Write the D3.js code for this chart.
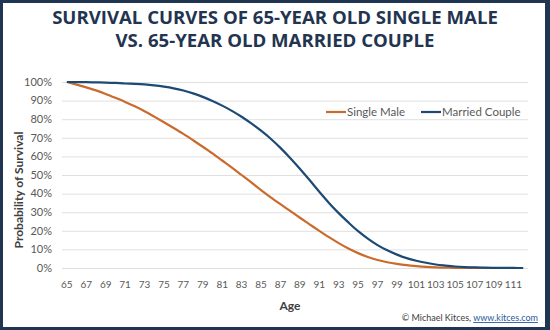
<!DOCTYPE html>
<html>
<head>
<meta charset="utf-8">
<script src="https://cdn.jsdelivr.net/npm/d3@7"></script>
<style>
  body { margin: 0; background: #fff; }
  svg { display: block; }
</style>
</head>
<body>
<svg id="chart"></svg>
<script>
// ages 65..112
const ages = d3.range(65, 113);
const singleMale = [100, 98.6, 97.1, 95.5, 93.6, 91.5, 89.3, 86.9, 84.3, 81.4,
  78.4, 75.3, 72.1, 68.7, 65.2, 61.6, 57.8, 54.0, 50.0, 46.0,
  41.9, 38.0, 34.3, 30.7, 27.0, 23.5, 20.0, 16.6, 13.4, 10.5,
  8.0, 5.9, 4.3, 3.1, 2.2, 1.5, 1.0, 0.6, 0.35, 0.2,
  0.1, 0.05, 0.02, 0, 0, 0, 0, 0];
const marriedCouple = [100, 99.97, 99.9, 99.8, 99.7, 99.5, 99.2, 99.0, 98.7, 98.2,
  97.5, 96.6, 95.4, 93.9, 92.0, 89.8, 87.3, 84.5, 81.3, 77.7,
  73.8, 69.5, 64.6, 59.2, 53.4, 47.3, 41.0, 35.0, 29.5, 24.5,
  19.8, 15.8, 12.3, 9.5, 7.2, 5.3, 3.9, 2.8, 1.9, 1.3,
  0.8, 0.5, 0.3, 0.15, 0.08, 0.04, 0.02, 0];
const yTicks = [0, 10, 20, 30, 40, 50, 60, 70, 80, 90, 100];
const seriesNames = ["Single Male", "Married Couple"];
const colors = ["#c96b2c", "#1d4a74"];

const W = 550, H = 330;
const svg = d3.select("#chart").attr("width", W).attr("height", H);

// frame
svg.append("rect").attr("x", 1.5).attr("y", 1.5)
  .attr("width", W - 4).attr("height", H - 3)
  .attr("fill", "none").attr("stroke", "#1f3552").attr("stroke-width", 3);
svg.append("rect").attr("x", W - 5).attr("y", 0).attr("width", 5).attr("height", H)
  .attr("fill", "#1f3552");

// title
svg.append("text")
  .attr("x", 275).attr("text-anchor", "middle")
  .attr("font-family", "'Open Sans', sans-serif").attr("font-weight", 700)
  .attr("font-size", 18.6).attr("fill", "#22344f")
  .selectAll("tspan")
  .data(["SURVIVAL CURVES OF 65-YEAR OLD SINGLE MALE", "VS. 65-YEAR OLD MARRIED COUPLE"])
  .join("tspan")
  .attr("x", 275).attr("y", (d, i) => 24 + i * 23)
  .text(d => d);

const plot = { left: 62, right: 528, top: 82, bottom: 268 };

const x = d3.scaleBand().domain(ages).range([plot.left, plot.right]);
const y = d3.scaleLinear().domain([0, 100]).range([plot.bottom, plot.top]);

// gridlines
svg.append("g").selectAll("line")
  .data(yTicks).join("line")
  .attr("x1", plot.left).attr("x2", plot.right)
  .attr("y1", d => y(d) + 0.5).attr("y2", d => y(d) + 0.5)
  .attr("stroke", "#e0e0e0").attr("stroke-width", 1);

// y axis labels
svg.append("g").selectAll("text")
  .data(yTicks).join("text")
  .attr("x", 52).attr("y", d => y(d)).attr("dy", "0.35em")
  .attr("text-anchor", "end")
  .attr("font-family", "Lato, sans-serif").attr("font-size", 11)
  .attr("fill", "#595959")
  .text(d => d + "%");

// x axis labels (every other age)
svg.append("g").selectAll("text")
  .data(ages.filter(a => (a - 65) % 2 === 0)).join("text")
  .attr("x", d => x(d) + x.bandwidth() / 2).attr("y", 288)
  .attr("text-anchor", "middle")
  .attr("font-family", "Lato, sans-serif").attr("font-size", 10)
  .attr("fill", "#595959")
  .text(d => d);

// axis titles
svg.append("text")
  .attr("x", 290).attr("y", 310).attr("text-anchor", "middle")
  .attr("font-family", "Lato, sans-serif").attr("font-weight", 700)
  .attr("font-size", 12).attr("fill", "#404040")
  .text("Age");
svg.append("text")
  .attr("transform", "translate(23,190) rotate(-90)").attr("text-anchor", "middle")
  .attr("font-family", "Lato, sans-serif").attr("font-weight", 700)
  .attr("font-size", 12).attr("fill", "#404040")
  .text("Probability of Survival");

// lines
const line = d3.line()
  .x((d, i) => x(ages[i]) + x.bandwidth() / 2)
  .y(d => y(d))
  .curve(d3.curveMonotoneX);

[singleMale, marriedCouple].forEach((s, i) => {
  svg.append("path")
    .attr("d", line(s))
    .attr("fill", "none")
    .attr("stroke", colors[i])
    .attr("stroke-width", 2.2);
});

// legend
const legendX = [326, 421];
seriesNames.forEach((name, i) => {
  svg.append("line")
    .attr("x1", legendX[i]).attr("x2", legendX[i] + 20)
    .attr("y1", 112).attr("y2", 112)
    .attr("stroke", colors[i]).attr("stroke-width", 2.2);
  svg.append("text")
    .attr("x", legendX[i] + 21).attr("y", 112).attr("dy", "0.35em")
    .attr("font-family", "Lato, sans-serif").attr("font-size", 11.5)
    .attr("fill", "#595959")
    .text(name);
});

// credit
const credit = svg.append("text")
  .attr("x", 538).attr("y", 321).attr("text-anchor", "end")
  .attr("font-family", "Lato, sans-serif").attr("font-size", 9)
  .attr("fill", "#404040");
credit.append("tspan").text("\u00a9 Michael Kitces, ");
credit.append("tspan").attr("fill", "#2a5a9a").attr("text-decoration", "underline")
  .text("www.kitces.com");
</script>
</body>
</html>
